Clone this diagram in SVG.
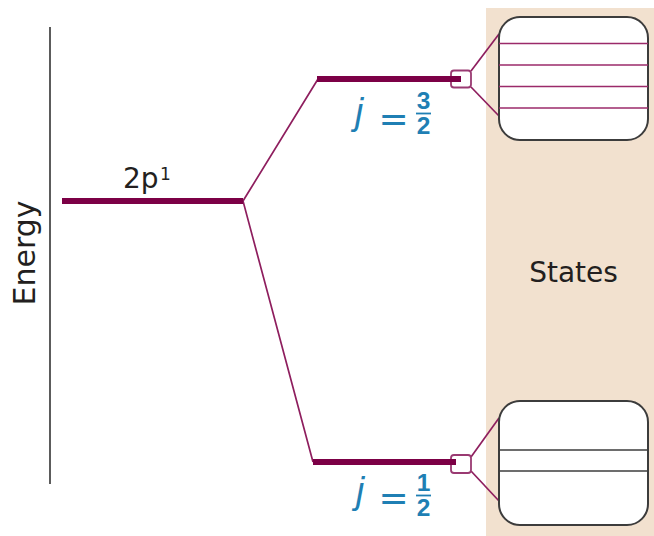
<svg xmlns="http://www.w3.org/2000/svg" width="654" height="536" viewBox="0 0 654 536">
<style>
.lvl{stroke:#7c0046;stroke-width:6;fill:none}
.thin{stroke:#8e1e5e;stroke-width:1.7;fill:none}
.sq{stroke:#9a3a72;stroke-width:1.8;fill:#fff}
.box{stroke:#3c3c3c;stroke-width:2;fill:#fff}
.mline{stroke:#9b2a6a;stroke-width:1.6}
.gline{stroke:#3c3c3c;stroke-width:1.6}
.lab{font-family:"DejaVu Sans","Liberation Sans",sans-serif;fill:#231f20}
.blue{font-family:"Liberation Sans","DejaVu Sans",sans-serif;fill:#1f7fb4}
.eq{font-family:"DejaVu Sans","Liberation Sans",sans-serif;fill:#1f7fb4;font-size:36px}
.bar{stroke:#1f7fb4;stroke-width:1.8}
</style>
<rect id="panel" x="486" y="8" width="168" height="528" fill="#f2e1cf"/>
<g id="axis">
<line x1="50" y1="27" x2="50" y2="484" stroke="#333" stroke-width="1.6"/>
<text class="lab" font-size="30" text-anchor="middle" transform="translate(35,253) rotate(-90)">Energy</text>
</g>
<g id="connectors">
<polyline class="thin" points="318,79 243,201 313,462"/>
<polyline class="thin" points="499,34 471,71"/>
<polyline class="thin" points="499,116 471,87"/>
<polyline class="thin" points="499,418 471,457"/>
<polyline class="thin" points="499,501 471,471"/>
</g>
<g id="level-2p">
<line class="lvl" x1="62" y1="201" x2="243" y2="201"/>
<text class="lab" font-size="28" x="123" y="188">2p</text>
<text class="lab" font-size="17" x="160" y="180">1</text>
</g>
<g id="level-j32">
<line class="lvl" x1="317" y1="79" x2="461" y2="79"/>
<rect class="sq" x="451" y="70.5" width="20" height="17" rx="3"/>
<line class="lvl" x1="450" y1="79" x2="461" y2="79"/>
<text class="blue" font-size="37" font-style="italic" x="355" y="124">j</text>
<text class="eq" text-anchor="middle" x="393.5" y="131">=</text>
<text class="blue" font-size="24.5" font-weight="bold" text-anchor="middle" x="423.5" y="109">3</text>
<line class="bar" x1="416" y1="113.5" x2="431" y2="113.5"/>
<text class="blue" font-size="24.5" font-weight="bold" text-anchor="middle" x="423.5" y="134">2</text>
</g>
<g id="level-j12">
<line class="lvl" x1="313" y1="462" x2="456" y2="462"/>
<rect class="sq" x="451" y="455" width="20" height="18" rx="3"/>
<line class="lvl" x1="450" y1="462" x2="456" y2="462"/>
<text class="blue" font-size="37" font-style="italic" x="356" y="503">j</text>
<text class="eq" text-anchor="middle" x="393.5" y="509.5">=</text>
<text class="blue" font-size="24.5" font-weight="bold" text-anchor="middle" x="423.5" y="490.5">1</text>
<line class="bar" x1="416" y1="495.5" x2="431" y2="495.5"/>
<text class="blue" font-size="24.5" font-weight="bold" text-anchor="middle" x="423.5" y="515.5">2</text>
</g>
<g id="states-top">
<rect class="box" x="499" y="17" width="149" height="123" rx="21"/>
<line class="mline" x1="499" y1="43.5" x2="648" y2="43.5"/>
<line class="mline" x1="499" y1="65" x2="648" y2="65"/>
<line class="mline" x1="499" y1="86.5" x2="648" y2="86.5"/>
<line class="mline" x1="499" y1="108" x2="648" y2="108"/>
</g>
<g id="states-label">
<text class="lab" font-size="28" text-anchor="middle" x="573.5" y="282">States</text>
</g>
<g id="states-bottom">
<rect class="box" x="499" y="401" width="149" height="124" rx="21"/>
<line class="gline" x1="499" y1="450" x2="648" y2="450"/>
<line class="gline" x1="499" y1="471" x2="648" y2="471"/>
</g>
</svg>
